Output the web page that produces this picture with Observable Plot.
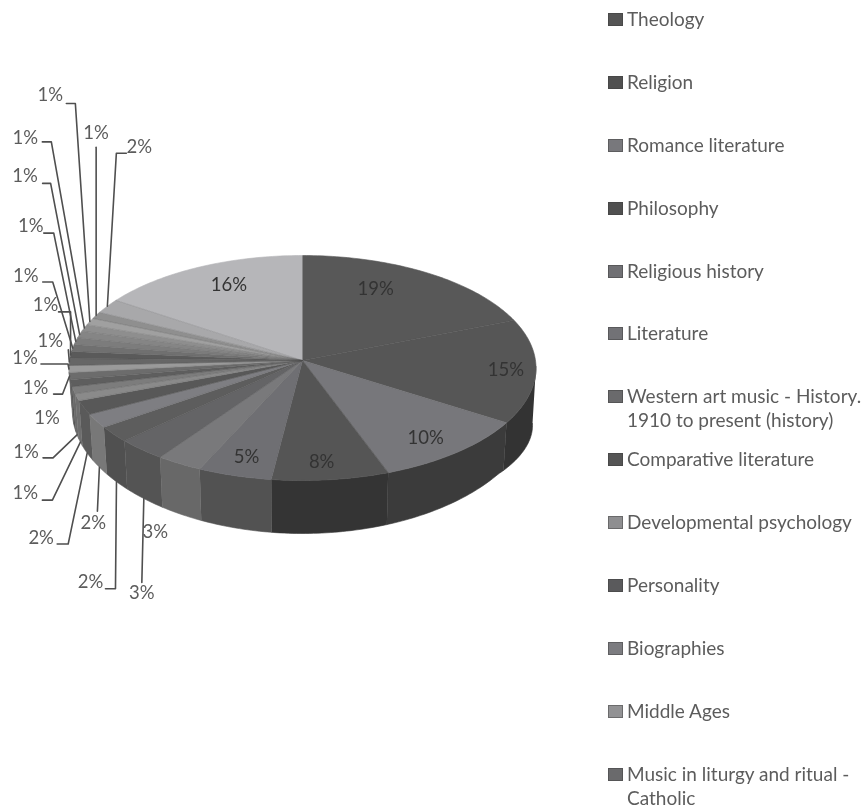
<!DOCTYPE html>
<html>
<head>
<meta charset="utf-8">
<script src="https://cdn.jsdelivr.net/npm/d3@7"></script>
<script src="https://cdn.jsdelivr.net/npm/@observablehq/plot@0.6"></script>
<style>
  html, body { margin: 0; padding: 0; background: #fff; width: 865px; height: 807px; overflow: hidden; }
  #stage { position: absolute; left: 0; top: 0; width: 865px; height: 807px; filter: blur(0.55px); }
  #chart { position: absolute; left: 0; top: 0; }
  #legend { position: absolute; left: 608px; top: 7px; margin: 0; padding: 0; list-style: none;
            font: 19px/24px Lato, sans-serif; color: #5c5c5c; }
  #legend li { height: 62.9px; width: 257px; display: flex; }
  #legend i { flex: none; width: 13px; height: 11px; margin: 6px 4px 0 0; border: 1px solid rgba(60,60,60,.45); box-sizing: content-box; }
  #legend span { display: block; }
</style>
</head>
<body>
<div id="stage">
<div id="chart"></div>
<ul id="legend"></ul>
</div>
<script>
// Data, clockwise from twelve o'clock (percent of the pie)
const sliceValues = [19, 15, 10.4, 7.6, 4.8, 3, 3.2, 2.3, 2, 2,
  1, 1, 1, 1, 1, 1, 1, 1, 1, 1, 1, 1, 1, 2.1, 15.6];
const topColors = ["#585858", "#565656", "#77777b", "#555555", "#6f6f73", "#79797b", "#646466", "#5d5d5d", "#7e7e82", "#585858",
  "#8a8a8a", "#7c7c7c", "#5e5e5e", "#6c6c6c", "#9a9a9a", "#666666", "#5a5a5a", "#707070", "#7c7c7c", "#858585",
  "#8e8e8e", "#a0a0a0", "#8f8f8f", "#a8a8aa", "#b6b6b9"];
const wallColors = ["#333333", "#333333", "#3b3b3b", "#343434", "#525252", "#686868", "#545454", "#505050", "#787878", "#5a5a5a",
  "#6e6e6e", "#6a6a6a", "#555555", "#606060", "#777777", "#606060", "#555555", "#606060", "#666666", "#6a6a6a",
  "#707070", "#7a7a7a", "#707070", "#808080", "#909090"];
const legendNames = ["Theology", "Religion", "Romance literature", "Philosophy", "Religious history", "Literature",
  "Western art music - History. 1910 to present (history)", "Comparative literature", "Developmental psychology",
  "Personality", "Biographies", "Middle Ages", "Music in liturgy and ritual - Catholic"];
const legendColors = ["#555555", "#505050", "#78787c", "#505050", "#707074", "#727276", "#6a6a6c", "#555555",
  "#8e8e90", "#5a5a5c", "#7c7c80", "#929294", "#6a6a6c"];

// Label placement, in pixels from each slice's rim point
const labelShift = [[-51, 16], [-30, -1], [-31, -14], [-9, -18], [12, -19], [-24, 69], [-2, 95], [-26, 100], [-6, 56], [-46, 85],
  [-55, 51], [-51, 17], [-24, 35], [-34, 12], [-44, -11], [-19, -21], [-25, -50], [-47, -72], [-45, -115], [-54.5, -158],
  [-59, -190], [-39.5, -226], [0, -182], [32, -159], [30, 18]];
// Leader lines: bend relative to the anchor, then a horizontal stub; null = no leader
const leaderBend = [null, null, null, null, null, null, [-2, 84, 0], [-1, 107, -10], [-2, 44, 0], [-19, 91, -11],
  [-28, 58, -10], [-24, 23, -10], null, [-7, 18, -9], [-1, -5, -27], [-1, -12, 0], [0, -43, -12], [-20, -66, -10],
  [-22, -108, -10], [-29, -151, -8], [-33, -186, -9], [-14.5, -218, -9], [0, -168, 0], [9, -153, 10], null];
const wallAnchored = new Set([6, 7, 8, 9, 10, 11]);

// Pie geometry: a tilted disc with perspective
const W = 865, H = 807, pxX = 233, pxY = 112, apexX = 302, apexY = 360, tilt = 1 / 15;
const wallFrom = 93, wallTo = 268;
const rad = d => d * Math.PI / 180;
const rim = deg => {
  const u = Math.sin(rad(deg)), v = -Math.cos(rad(deg)), w = 1 - tilt * v;
  return {x: u / w, y: v / w, v};
};
const wallFoot = deg => {
  const p = rim(deg);
  const bulge = deg < 180 ? 13 * Math.min(1, Math.max(0, (125 - deg) / 30)) : 0;
  const depth = 44 + 9 * Math.max(0, p.v) ** 2 + bulge;
  return {x: p.x * 0.985, y: p.y + depth / pxY};
};

const total = d3.sum(sliceValues);
let running = 0;
const slices = sliceValues.map((value, i) => {
  const start = running / total * 360;
  running += value;
  const end = running / total * 360;
  return {i, value, start, end, mid: (start + end) / 2};
});
const arc = (a, b) => {
  const n = Math.max(2, Math.ceil(b - a));
  return d3.range(n + 1).map(k => a + (b - a) * k / n);
};

const topFaces = slices.flatMap(s => [
  {i: s.i, fill: topColors[s.i], x: 0, y: 0},
  ...arc(s.start, s.end).map(a => ({i: s.i, fill: topColors[s.i], ...rim(a)}))
]);
const walls = slices.filter(s => s.end > wallFrom && s.start < wallTo).flatMap(s => {
  const a = Math.max(s.start, wallFrom), b = Math.min(s.end, wallTo), angles = arc(a, b);
  const base = {i: s.i, fill: wallColors[s.i]};
  return [...angles.map(t => ({...base, ...rim(t)})),
          ...angles.slice().reverse().map(t => ({...base, ...wallFoot(t)}))];
});
const spokes = slices.map(s => ({...rim(s.start)}));

const anchorOf = s => wallAnchored.has(s.i) ? wallFoot(s.mid) : rim(s.mid);
const leaders = slices.filter(s => leaderBend[s.i]).flatMap(s => {
  const a = anchorOf(s), [dx, dy, stub] = leaderBend[s.i];
  const bx = a.x + dx / pxX, by = a.y + dy / pxY;
  const pts = [{i: s.i, x: a.x, y: a.y}, {i: s.i, x: bx, y: by}];
  if (stub) pts.push({i: s.i, x: bx + stub / pxX, y: by});
  return pts;
});
const labels = slices.map(s => {
  const a = anchorOf(s), [dx, dy] = labelShift[s.i];
  return {text: Math.round(s.value) + "%", x: a.x + dx / pxX, y: a.y + dy / pxY, inside: [0, 1, 2, 3, 4, 24].includes(s.i)};
});

const chart = Plot.plot({
  width: W, height: H, margin: 0,
  style: {background: "transparent", fontFamily: "Lato, sans-serif"},
  x: {domain: [-apexX / pxX, (W - apexX) / pxX], range: [0, W], axis: null},
  y: {domain: [-apexY / pxY, (H - apexY) / pxY], range: [0, H], axis: null},
  color: {type: "identity"},
  marks: [
    Plot.line(walls, {x: "x", y: "y", z: "i", fill: "fill", stroke: "fill", strokeWidth: 0.6, curve: "linear"}),
    Plot.line(topFaces, {x: "x", y: "y", z: "i", fill: "fill", stroke: "fill", strokeWidth: 0.6, curve: "linear"}),
    Plot.link(spokes, {x1: 0, y1: 0, x2: "x", y2: "y", stroke: "#4a4a4a", strokeWidth: 0.5, strokeOpacity: 0.45}),
    Plot.line(leaders, {x: "x", y: "y", z: "i", stroke: "#4f4f4f", strokeWidth: 1.6, curve: "linear"}),
    Plot.text(labels.filter(d => !d.inside), {x: "x", y: "y", text: "text", fill: "#5c5c5c", fontSize: 18.5}),
    Plot.text(labels.filter(d => d.inside), {x: "x", y: "y", text: "text", fill: "#333333", fontSize: 18.5})
  ]
});
document.getElementById("chart").append(chart);

d3.select("#legend").selectAll("li").data(legendNames).join("li").each(function (name, i) {
  const li = d3.select(this);
  li.append("i").style("background", legendColors[i]);
  li.append("span").text(name);
});
</script>
</body>
</html>
